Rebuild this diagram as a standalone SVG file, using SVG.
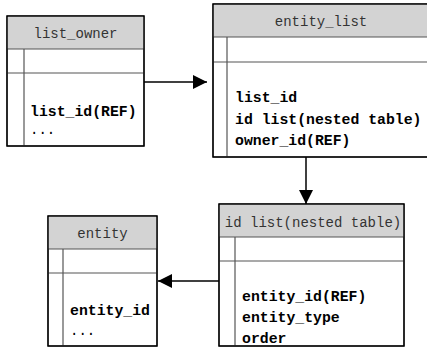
<svg xmlns="http://www.w3.org/2000/svg" width="427" height="357" viewBox="0 0 427 357">
<style>
.box{fill:#fff;stroke:#000;stroke-width:1.2}
.hdr{fill:#d3d3d3;stroke:none}
.sep{stroke:#555;stroke-width:1.2}
.ht{font-family:"Liberation Mono",monospace;font-size:14px;fill:#333;text-anchor:middle}
.bt{font-family:"Liberation Mono",monospace;font-size:14.8px;font-weight:bold;fill:#000}
.dt{font-family:"Liberation Mono",monospace;font-size:14px;fill:#000}
.con{stroke:#000;stroke-width:1.5;fill:none}
</style>
<defs>
<marker id="ah" viewBox="0 0 10 10" refX="10" refY="5" markerWidth="15" markerHeight="14" markerUnits="userSpaceOnUse" orient="auto">
<path d="M0,0 L10,5 L0,10 Z" fill="#000"/>
</marker>
</defs>
<g id="list_owner">
<rect class="box" x="7" y="16" width="137" height="130"/>
<rect class="hdr" x="7.6" y="16.6" width="135.8" height="32.4"/>
<line class="sep" x1="7" y1="49" x2="144" y2="49"/>
<line class="sep" x1="7" y1="73" x2="144" y2="73"/>
<line class="sep" x1="24" y1="49" x2="24" y2="146"/>
<rect x="7" y="16" width="137" height="130" fill="none" stroke="#000" stroke-width="1.2"/>
<text class="ht" x="75.5" y="38">list_owner</text>
<text class="bt" x="30" y="116">list_id(REF)</text>
<text class="dt" x="30" y="134">...</text>
</g>
<g id="entity_list">
<rect class="box" x="213" y="4" width="230" height="153"/>
<rect class="hdr" x="213.6" y="4.6" width="228" height="32.4"/>
<line class="sep" x1="213" y1="37" x2="443" y2="37"/>
<line class="sep" x1="213" y1="62" x2="443" y2="62"/>
<line class="sep" x1="227" y1="37" x2="227" y2="157"/>
<rect x="213" y="4" width="230" height="153" fill="none" stroke="#000" stroke-width="1.2"/>
<text class="ht" x="321" y="26">entity_list</text>
<text class="bt" x="235" y="102">list_id</text>
<text class="bt" x="235" y="124">id list(nested table)</text>
<text class="bt" x="235" y="145">owner_id(REF)</text>
</g>
<g id="id_list">
<rect class="box" x="219" y="204" width="185" height="142"/>
<rect class="hdr" x="219.6" y="204.6" width="183.8" height="32.4"/>
<line class="sep" x1="219" y1="237" x2="404" y2="237"/>
<line class="sep" x1="219" y1="261" x2="404" y2="261"/>
<line class="sep" x1="235" y1="237" x2="235" y2="346"/>
<rect x="219" y="204" width="185" height="142" fill="none" stroke="#000" stroke-width="1.2"/>
<text class="ht" x="313" y="227">id list(nested table)</text>
<text class="bt" x="242" y="301">entity_id(REF)</text>
<text class="bt" x="242" y="322">entity_type</text>
<text class="bt" x="242" y="343">order</text>
</g>
<g id="entity">
<rect class="box" x="48" y="216" width="109" height="130"/>
<rect class="hdr" x="48.6" y="216.6" width="107.8" height="32.4"/>
<line class="sep" x1="48" y1="249" x2="157" y2="249"/>
<line class="sep" x1="48" y1="273" x2="157" y2="273"/>
<line class="sep" x1="63" y1="249" x2="63" y2="346"/>
<rect x="48" y="216" width="109" height="130" fill="none" stroke="#000" stroke-width="1.2"/>
<text class="ht" x="102.5" y="238">entity</text>
<text class="bt" x="70" y="315">entity_id</text>
<text class="dt" x="70" y="335">...</text>
</g>
<g id="connectors">
<line class="con" x1="144" y1="82" x2="207" y2="82" marker-end="url(#ah)"/>
<line class="con" x1="306" y1="157" x2="306" y2="204" marker-end="url(#ah)"/>
<line class="con" x1="219" y1="281" x2="158" y2="281" marker-end="url(#ah)"/>
</g>
</svg>
